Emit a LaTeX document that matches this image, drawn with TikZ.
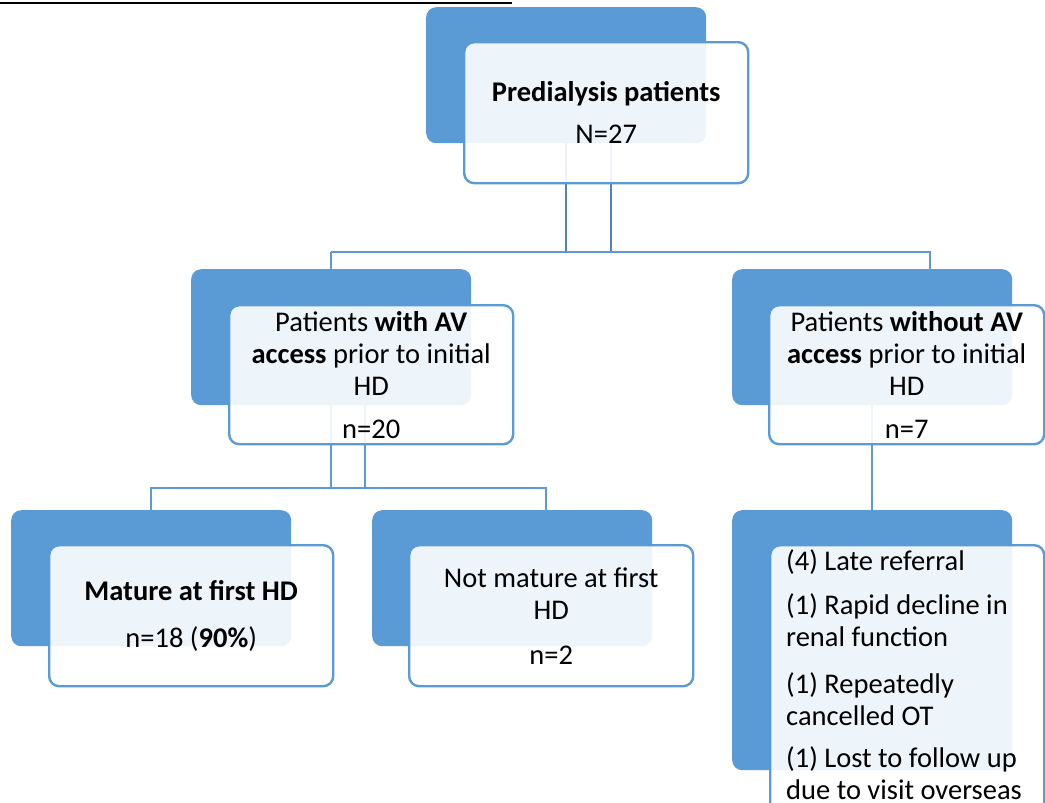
\documentclass[tikz,border=0pt]{standalone}
\usepackage{fontspec}
\setmainfont{Carlito}
\definecolor{accent}{RGB}{91,155,213}
\definecolor{conn}{RGB}{82,130,184}
\begin{document}
\begin{tikzpicture}[x=1pt,y=-1pt,
  back/.style={fill=accent, rounded corners=10pt, inner sep=0pt, anchor=north west,
    minimum width=280pt, minimum height=136pt},
  front/.style={draw=accent, line width=2.4pt, fill=white, fill opacity=0.9, text opacity=1,
    rounded corners=10pt, inner sep=0pt, anchor=north west, align=center,
    minimum width=284pt, minimum height=140pt, font=\fontsize{28.5}{32}\selectfont},
  link/.style={draw=conn, line width=2.8pt},
  sublink/.style={draw=accent, line width=2.4pt},
  listtext/.style={anchor=north west, align=left, inner sep=0pt, font=\fontsize{28.5}{32}\selectfont}]
\useasboundingbox (0,0) rectangle (1045,803);
\clip (0,0) rectangle (1045,803);

% underline of the cut-off title
\coordinate (ulA) at (0,3);
\coordinate (ulB) at (512,3);
\draw[line width=2.4pt] (ulA) -- (ulB);

% back boxes
\node[back] (topB) at (426,7) {};
\node[back] (midLB) at (191,269) {};
\node[back] (midRB) at (732,269) {};
\node[back] (botLB) at (11,510) {};
\node[back] (botMB) at (372,510) {};
\node[back, minimum height=260pt] (botRB) at (732,510) {};

% connectors
\coordinate (t1) at (566,252);
\coordinate (t2) at (611,252);
\coordinate (r1) at (930,252);
\draw[link] (t1 |- topB.south) -- (t1);
\draw[link] (t2 |- topB.south) -- (t2);
\draw[sublink] (midLB.north |- t1) -- (r1) -- (r1 |- midRB.north);
\draw[sublink] (midLB.north |- t1) -- (midLB.north);

\coordinate (m1) at (331,488);
\coordinate (m2) at (365,488);
\coordinate (bl) at (151,488);
\coordinate (bm) at (546,488);
\draw[sublink] (m1 |- midLB.south) -- (m1);
\draw[sublink] (m2 |- midLB.south) -- (m2);
\draw[sublink] (bl |- botLB.north) -- (bl) -- (bm) -- (bm |- botMB.north);

\draw[sublink] (midRB.south) -- (botRB.north);

% front boxes
\node[front, minimum height=141pt] (topF) at (463,41)
  {\textbf{Predialysis patients}\\[10pt] N=27};
\node[front, minimum height=139pt] (midLF) at (228,304)
  {Patients \textbf{with AV}\\ \textbf{access} prior to initial\\ HD\\[11pt] n=20};
\node[front, minimum height=139pt, minimum width=275pt] (midRF) at (768,304)
  {Patients \textbf{without AV}\\ \textbf{access} prior to initial\\ HD\\[11pt] n=7};
\node[front, minimum height=141pt] (botLF) at (48,544)
  {\textbf{Mature at first HD}\\[15pt] n=18 (\textbf{90\%})};
\node[front, minimum height=141pt] (botMF) at (408,544)
  {Not mature at first\\ HD\\[13pt] n=2};
\node[front, minimum height=290pt, minimum width=274pt] (botRF) at (769,544) {};
\node[listtext] (reasons) at (786,549)
  {(4) Late referral\\[12pt]
   (1) Rapid decline in\\ renal function\\[15pt]
   (1) Repeatedly\\ cancelled OT\\[10pt]
   (1) Lost to follow up\\ due to visit overseas};
\end{tikzpicture}
\end{document}
